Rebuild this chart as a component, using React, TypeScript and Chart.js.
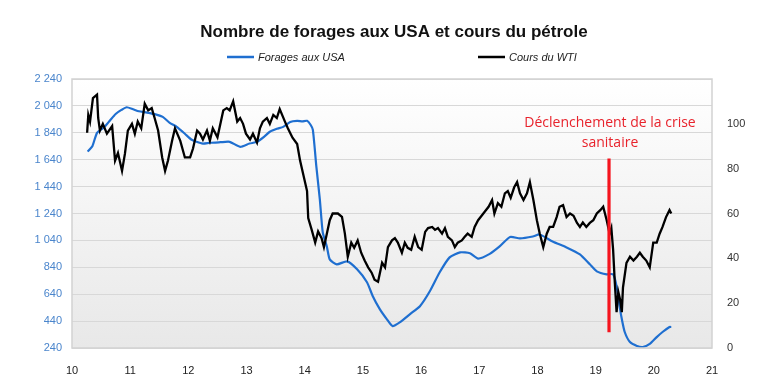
import React, { useEffect, useRef } from "react";
import { Chart, registerables } from "chart.js";
Chart.register(...registerables);

// ---- Data ----
const rigYears = [
  10.27, 10.35, 10.43, 10.55, 10.65, 10.75, 10.85, 10.94, 11.05, 11.15, 11.29, 11.45, 11.56, 11.68, 11.8, 11.94,
  12.05, 12.14, 12.25, 12.37, 12.55, 12.71, 12.89, 13.05, 13.18, 13.3, 13.4, 13.52, 13.63, 13.75, 13.87, 13.96, 14.04,
  14.1, 14.14, 14.2, 14.26, 14.31, 14.38, 14.43, 14.55, 14.73, 14.9, 15.07, 15.17, 15.29, 15.41, 15.51, 15.64,
  15.81, 15.98, 16.15, 16.32, 16.49, 16.67, 16.84, 16.98, 17.18, 17.35, 17.53, 17.7, 17.92, 18.04, 18.26, 18.5,
  18.73, 18.9, 19.02, 19.19, 19.3, 19.36, 19.42, 19.45, 19.5, 19.59, 19.71, 19.81, 19.93, 20.05, 20.15, 20.27, 20.3,
];
const rigCounts = [
  1700, 1740, 1840, 1880, 1930, 1980, 2010, 2030, 2015, 2000, 1990, 1975, 1958, 1914, 1884, 1833,
  1790, 1773, 1760, 1766, 1770, 1773, 1736, 1760, 1773, 1810, 1848, 1870, 1884, 1921, 1929, 1925, 1929,
  1900, 1862, 1588, 1344, 1099, 995, 899, 862, 884, 825, 729, 625, 529, 455, 403, 433,
  492, 551, 662, 803, 914, 951, 944, 905, 940, 995, 1065, 1055, 1069, 1084, 1032, 988,
  936, 862, 810, 788, 788, 699, 529, 455, 359, 284, 255, 247, 270, 321, 359, 396, 396,
];

const wtiYears = [
  10.26, 10.28, 10.31, 10.36, 10.43, 10.45, 10.48, 10.53, 10.6, 10.69, 10.74, 10.79, 10.86, 10.91, 10.96, 11.03,
  11.08, 11.13, 11.19, 11.25, 11.31, 11.37, 11.42, 11.48, 11.55, 11.6, 11.65, 11.72, 11.77, 11.86, 11.94, 12.03,
  12.08, 12.15, 12.2, 12.25, 12.32, 12.37, 12.42, 12.5, 12.6, 12.66, 12.71, 12.77, 12.84, 12.89, 12.94, 12.99,
  13.06, 13.11, 13.18, 13.23, 13.28, 13.35, 13.4, 13.46, 13.52, 13.57, 13.66, 13.71, 13.79, 13.87, 13.92, 13.97,
  14.04, 14.06, 14.12, 14.18, 14.23, 14.29, 14.33, 14.38, 14.43, 14.48, 14.57, 14.64, 14.69, 14.74, 14.8, 14.85,
  14.91, 14.97, 15.03, 15.09, 15.15, 15.2, 15.26, 15.33, 15.38, 15.43, 15.5, 15.55, 15.6, 15.67, 15.72, 15.77,
  15.83, 15.89, 15.95, 16.01, 16.07, 16.12, 16.19, 16.24, 16.29, 16.36, 16.41, 16.46, 16.53, 16.58, 16.63, 16.7,
  16.75, 16.8, 16.87, 16.92, 16.98, 17.04, 17.1, 17.16, 17.22, 17.26, 17.32, 17.38, 17.44, 17.49, 17.54, 17.6,
  17.65, 17.7, 17.76, 17.82, 17.87, 17.93, 17.99, 18.04, 18.1, 18.16, 18.21, 18.27, 18.33, 18.38, 18.44, 18.5,
  18.56, 18.62, 18.68, 18.73, 18.78, 18.84, 18.9, 18.96, 19.02, 19.08, 19.13, 19.19, 19.24, 19.27, 19.3, 19.33,
  19.36, 19.39, 19.42, 19.45, 19.47, 19.53, 19.59, 19.65, 19.71, 19.76, 19.81, 19.87, 19.93, 19.99, 20.05, 20.1,
  20.15, 20.21, 20.27, 20.3,
];
const wtiPrices = [
  96, 104, 101, 111.5, 113, 102.6, 97, 100, 95.6, 99, 83.6, 87, 79, 86.7, 97, 100,
  95.6, 101, 98, 109, 106, 107, 102.6, 97, 85, 79, 83.6, 92.5, 98, 92.5, 85, 85,
  89, 97, 95.6, 93, 97, 92.5, 98, 94, 106, 107, 106, 110, 101, 102.6, 100, 95.6,
  93, 95.6, 91.6, 98, 101, 102.6, 100, 104, 102.6, 106.6, 101, 98, 93.8, 91, 83.6, 78,
  70, 58, 52.7, 47, 52, 49, 45, 51, 57, 60, 60, 58.5, 51, 40.7, 47, 44.7,
  48, 42.5, 39, 36, 33.6, 30.5, 29.6, 38, 36, 45, 48, 49, 47, 42.5, 47, 44.7,
  43.8, 49.6, 45, 43.8, 51.8, 53.5, 54, 52.7, 53.5, 51, 53.5, 49.6, 48, 45, 47, 48,
  49.6, 51, 49.6, 54, 57, 59, 61, 63, 66, 60, 64.6, 63, 69, 70, 67, 71.7,
  74, 69, 66, 69, 74, 66, 57, 51, 45, 51, 54, 54, 58.4, 63, 63.7, 58.4,
  60, 59, 55.8, 54, 56, 54, 55.8, 57, 60, 61.5, 63, 57, 51, 53.5, 44, 29,
  16, 25, 21.7, 16, 27, 38, 40.7, 39, 40.7, 42.5, 40.7, 39, 36, 47, 47, 51,
  54, 58.4, 61.5, 60,
];

const crisisYears = [19.23, 19.23];
const crisisLevels = [84.5, 7];

const xRange = [10, 21];
const leftRange = [240, 2240];
const leftStep = 200;
const rightRange = [0, 120];
const rightStep = 20;
const rightMaxLabel = 100;

const titleText = "Nombre de forages aux USA et cours du pétrole";
const seriesLabels = ["Forages aux USA", "Cours du WTI"];
const annotationLines = ["Déclenchement de la crise", "sanitaire"];

const BLUE = "#1f6fd0";
const BLACK = "#000000";
const RED = "#f5141e";
const FONT = '"Liberation Sans", Arial, sans-serif';

function fmtThousands(v: number): string {
  const n = Math.round(v);
  if (n >= 1000) {
    const rest = String(n % 1000).padStart(3, "0");
    return `${Math.floor(n / 1000)} ${rest}`;
  }
  return String(n);
}

const decorPlugin = {
  id: "decor",
  beforeDraw(chart: any) {
    const { ctx, chartArea } = chart;
    if (!chartArea) return;
    const { left, top, right, bottom } = chartArea;
    ctx.save();
    const g = ctx.createLinearGradient(0, top, 0, bottom);
    g.addColorStop(0, "#ffffff");
    g.addColorStop(1, "#e8e8e8");
    ctx.fillStyle = g;
    ctx.fillRect(left, top, right - left, bottom - top);
    ctx.restore();
  },
  afterDraw(chart: any) {
    const { ctx, chartArea, scales } = chart;
    const { left, top, right, bottom } = chartArea;
    ctx.save();
    // plot border
    ctx.strokeStyle = "#d2d2d2";
    ctx.lineWidth = 1.5;
    ctx.strokeRect(left, top, right - left, bottom - top);

    // title
    ctx.fillStyle = "#111";
    ctx.font = `bold 17px ${FONT}`;
    ctx.textAlign = "center";
    ctx.textBaseline = "middle";
    ctx.fillText(titleText, 394, 32);

    // legend
    ctx.font = `italic 11px ${FONT}`;
    ctx.textAlign = "left";
    ctx.fillStyle = "#222";
    const items = [
      { x: 227, color: BLUE, label: seriesLabels[0] },
      { x: 478, color: BLACK, label: seriesLabels[1] },
    ];
    for (const it of items) {
      ctx.strokeStyle = it.color;
      ctx.lineWidth = 2.5;
      ctx.beginPath();
      ctx.moveTo(it.x, 57);
      ctx.lineTo(it.x + 27, 57);
      ctx.stroke();
      ctx.fillText(it.label, it.x + 31, 57.5);
    }

    // annotation
    const xs = scales.x.getPixelForValue(crisisYears[0]);
    const yTop = scales.y1.getPixelForValue(crisisLevels[0]);
    ctx.fillStyle = "#e8232c";
    ctx.font = `14px "Open Sans", sans-serif`;
    ctx.textAlign = "center";
    ctx.fillText(annotationLines[0], xs + 1, yTop - 36);
    ctx.fillText(annotationLines[1], xs + 1, yTop - 16);
    ctx.restore();
  },
};

export default function App() {
  const ref = useRef<HTMLCanvasElement>(null);
  useEffect(() => {
    document.body.style.margin = "0";
    const canvas = ref.current;
    if (!canvas) return;
    const chart = new Chart(canvas, {
      type: "line",
      data: {
        datasets: [
          {
            label: "crise",
            data: crisisYears.map((x, i) => ({ x, y: crisisLevels[i] })),
            borderColor: RED,
            borderWidth: 3.2,
            pointRadius: 0,
            yAxisID: "y1",
          },
          {
            label: seriesLabels[1],
            data: wtiYears.map((x, i) => ({ x, y: wtiPrices[i] })),
            borderColor: BLACK,
            borderWidth: 2.3,
            pointRadius: 0,
            tension: 0,
            yAxisID: "y1",
          },
          {
            label: seriesLabels[0],
            data: rigYears.map((x, i) => ({ x, y: rigCounts[i] })),
            borderColor: BLUE,
            borderWidth: 2.2,
            pointRadius: 0,
            tension: 0.2,
            yAxisID: "y",
          },
        ],
      },
      options: {
        animation: false,
        responsive: false,
        layout: { padding: { top: 79, left: 0, right: 0, bottom: 0 } },
        plugins: {
          legend: { display: false },
          title: { display: false },
          tooltip: { enabled: false },
        },
        scales: {
          x: {
            type: "linear",
            min: xRange[0],
            max: xRange[1],
            border: { display: false },
            grid: { display: false },
            ticks: {
              stepSize: 1,
              autoSkip: false,
              color: "#222",
              padding: 8,
              font: { family: FONT, size: 11 },
              callback: (v: any) => String(v),
            },
            afterFit: (s: any) => {
              s.height = 29;
            },
          },
          y: {
            type: "linear",
            position: "left",
            min: leftRange[0],
            max: leftRange[1],
            border: { display: false },
            grid: { color: "#d8d8d8", lineWidth: 1, drawTicks: false },
            ticks: {
              stepSize: leftStep,
              color: "#4a85cc",
              padding: 10,
              font: { family: FONT, size: 11 },
              callback: (v: any) => fmtThousands(Number(v)),
            },
            afterFit: (s: any) => {
              s.width = 72;
            },
          },
          y1: {
            type: "linear",
            position: "right",
            min: rightRange[0],
            max: rightRange[1],
            border: { display: false },
            grid: { display: false, drawTicks: false },
            ticks: {
              stepSize: rightStep,
              color: "#333",
              padding: 15,
              font: { family: FONT, size: 11 },
              callback: (v: any) => (Number(v) > rightMaxLabel ? "" : String(v)),
            },
            afterFit: (s: any) => {
              s.width = 48;
            },
          },
        },
      },
      plugins: [decorPlugin],
    });
    return () => chart.destroy();
  }, []);
  return (
    <div style={{ position: "fixed", left: 0, top: 0, width: 760, height: 377, background: "#fff" }}>
      <canvas ref={ref} width={760} height={377} />
    </div>
  );
}
